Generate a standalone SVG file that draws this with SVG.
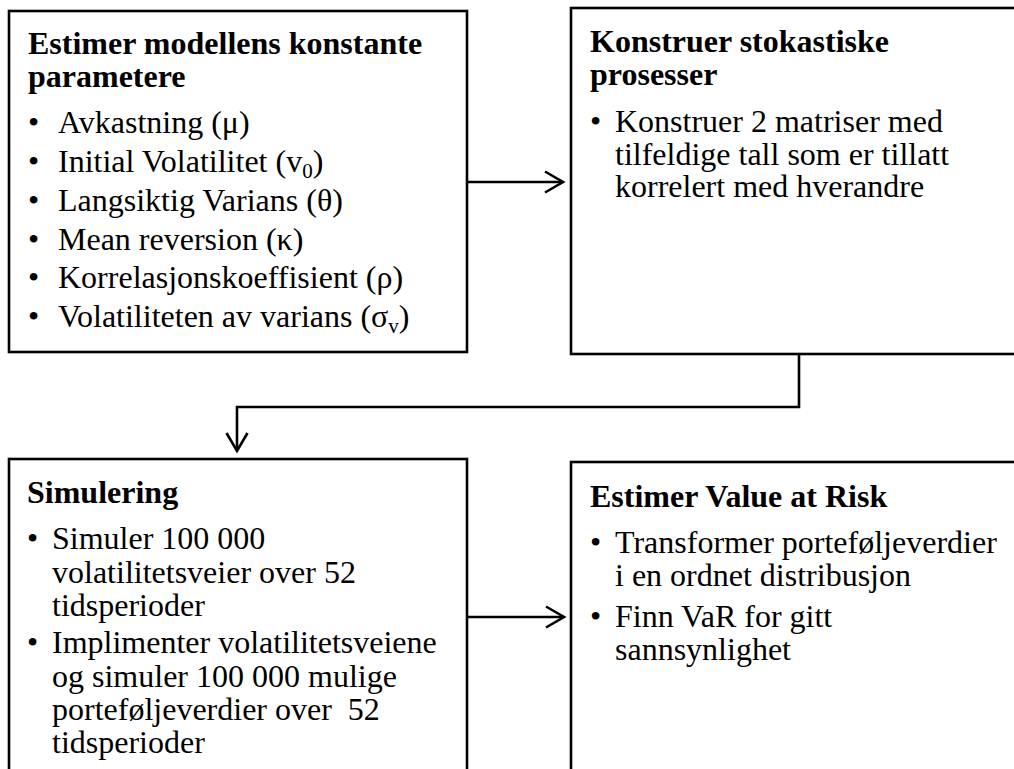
<svg xmlns="http://www.w3.org/2000/svg" width="1014" height="769" viewBox="0 0 1014 769">
<style>
.box{fill:#fff;stroke:#000;stroke-width:2.6}
.t{font-family:"Liberation Serif","Times New Roman",serif;font-size:32px;fill:#000;white-space:pre}
.b{font-weight:bold}
.c{fill:none;stroke:#000;stroke-width:2.6}
</style>
<defs>
<marker id="ah" markerUnits="userSpaceOnUse" markerWidth="24" markerHeight="26" refX="20" refY="12" orient="auto">
<path d="M2,1.5 L20,12 L2,22.5" fill="none" stroke="#000" stroke-width="2.6"/>
</marker>
</defs>
<rect width="1014" height="769" fill="#fff"/>
<g id="node-estimer-parametere">
<rect class="box" x="9" y="11" width="458" height="341"/>
<text class="t b" x="28" y="54">Estimer modellens konstante</text>
<text class="t b" x="28" y="87">parametere</text>
<text class="t" x="28" y="133">•</text><text class="t" x="58" y="133">Avkastning (μ)</text>
<text class="t" x="28" y="172">•</text><text class="t" x="58" y="172">Initial Volatilitet (v<tspan font-size="21" dy="6">0</tspan><tspan dy="-6">)</tspan></text>
<text class="t" x="28" y="211">•</text><text class="t" x="58" y="211">Langsiktig Varians (θ)</text>
<text class="t" x="28" y="250">•</text><text class="t" x="58" y="250">Mean reversion (κ)</text>
<text class="t" x="28" y="288">•</text><text class="t" x="58" y="288">Korrelasjonskoeffisient (ρ)</text>
<text class="t" x="28" y="327">•</text><text class="t" x="58" y="327">Volatiliteten av varians (σ<tspan font-size="21" dy="6">v</tspan><tspan dy="-6">)</tspan></text>
</g>
<g id="node-konstruer">
<rect class="box" x="571" y="8" width="460" height="346"/>
<text class="t b" x="590" y="52">Konstruer stokastiske</text>
<text class="t b" x="590" y="85">prosesser</text>
<text class="t" x="590" y="132">•</text>
<text class="t" x="615" y="132">Konstruer 2 matriser med</text>
<text class="t" x="615" y="165">tilfeldige tall som er tillatt</text>
<text class="t" x="615" y="197">korrelert med hverandre</text>
</g>
<g id="node-simulering">
<rect class="box" x="9" y="459" width="458" height="340"/>
<text class="t b" x="27" y="503">Simulering</text>
<text class="t" x="27" y="549">•</text>
<text class="t" x="52" y="549">Simuler 100 000</text>
<text class="t" x="52" y="583">volatilitetsveier over 52</text>
<text class="t" x="52" y="616">tidsperioder</text>
<text class="t" x="27" y="653">•</text>
<text class="t" x="52" y="653">Implimenter volatilitetsveiene</text>
<text class="t" x="52" y="687">og simuler 100 000 mulige</text>
<text class="t" x="52" y="720">porteføljeverdier over  52</text>
<text class="t" x="52" y="753">tidsperioder</text>
</g>
<g id="node-var">
<rect class="box" x="571" y="462" width="460" height="340"/>
<text class="t b" x="590" y="507">Estimer Value at Risk</text>
<text class="t" x="590" y="553">•</text>
<text class="t" x="615" y="553">Transformer porteføljeverdier</text>
<text class="t" x="615" y="586">i en ordnet distribusjon</text>
<text class="t" x="590" y="627">•</text>
<text class="t" x="615" y="627">Finn VaR for gitt</text>
<text class="t" x="615" y="660">sannsynlighet</text>
</g>
<g id="connectors">
<path class="c" d="M467,182 H563" marker-end="url(#ah)"/>
<path class="c" d="M799,354 V407 H237 V451" marker-end="url(#ah)"/>
<path class="c" d="M467,617 H564" marker-end="url(#ah)"/>
</g>
</svg>
